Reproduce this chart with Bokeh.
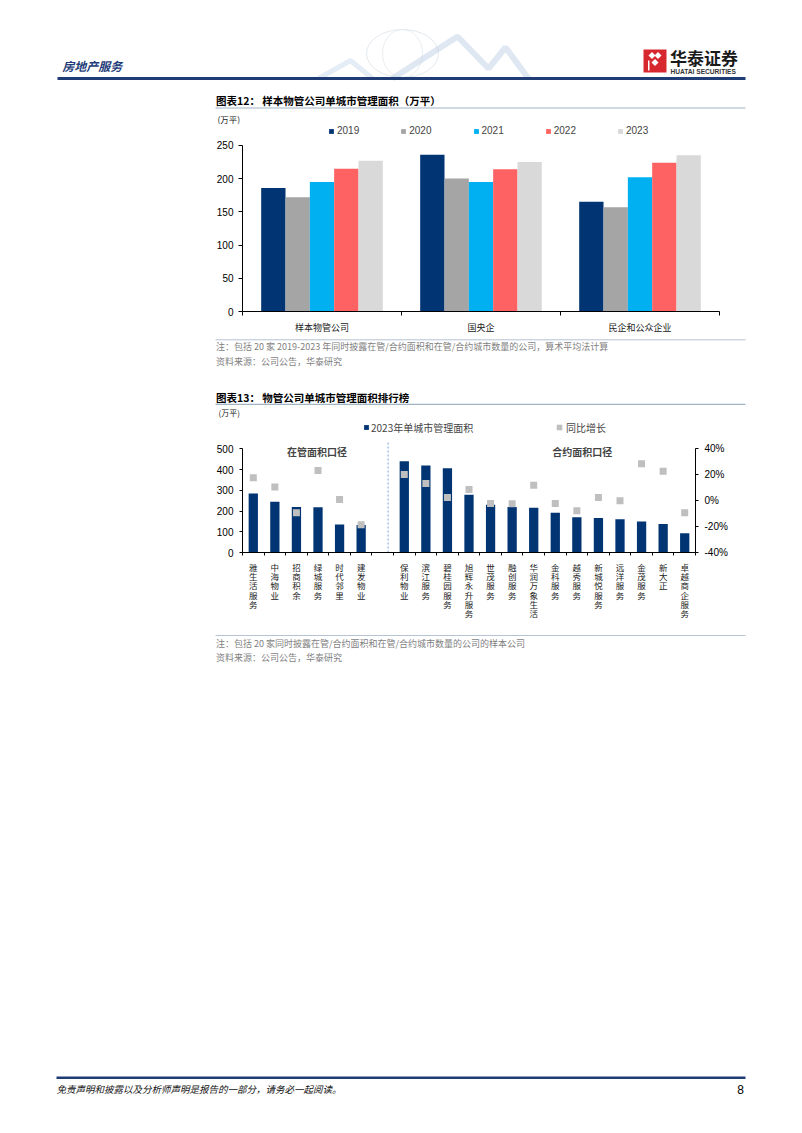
from bokeh.plotting import figure
from bokeh.models import (Range1d, LinearAxis, FixedTicker, NumeralTickFormatter,
                          Legend, LegendItem, Label, ColumnDataSource)
from bokeh.transform import dodge
from bokeh.core.properties import value
from bokeh.embed import file_html
from bokeh.resources import INLINE

CJK = "Noto Sans CJK SC"
LAT = "Liberation Sans"
NAVY = "#003473"
W = 802

# ---------------- data: chart 12 ----------------
groups12 = ["样本物管公司", "国央企", "民企和公众企业"]
years12 = ["2019", "2020", "2021", "2022", "2023"]
v2019 = [186, 236, 165]
v2020 = [172, 200, 157]
v2021 = [195, 195, 202]
v2022 = [215, 214, 224]
v2023 = [227, 225, 235]
colors12 = ["#003473", "#A5A5A5", "#00B0F0", "#FF6262", "#D9D9D9"]
ticks12 = [0, 50, 100, 150, 200, 250]

# ---------------- data: chart 13 ----------------
names_managed = ["雅生活服务", "中海物业", "招商积余", "绿城服务", "时代邻里", "建发物业"]
area_managed = [285, 245, 219, 218, 135, 133]
yoy_managed = [0.178, 0.106, -0.093, 0.234, 0.009, -0.185]
names_contract = ["保利物业", "滨江服务", "碧桂园服务", "旭辉永升服务", "世茂服务", "融创服务",
                  "华润万象生活", "金科服务", "越秀服务", "新城悦服务", "远洋服务", "金茂服务",
                  "新大正", "卓越商企服务"]
area_contract = [440, 420, 406, 279, 230, 219, 216, 192, 170, 166, 160, 150, 137, 93]
yoy_contract = [0.203, 0.132, 0.024, 0.086, -0.022, -0.024, 0.119, -0.022, -0.078, 0.024,
                -0.001, 0.285, 0.228, -0.093]
ticks13_left = [0, 100, 200, 300, 400, 500]
ticks13_right = [-0.4, -0.2, 0.0, 0.2, 0.4]
series13 = ["2023年单城市管理面积", "同比增长"]
section13 = ["在管面积口径", "合约面积口径"]
unit_label = "(万平)"


def canvas(top, bottom):
    p = figure(width=W, height=bottom - top, x_range=Range1d(0, W),
               y_range=Range1d(bottom, top), output_backend="svg",
               toolbar_location=None, x_axis_type=None, y_axis_type=None, min_border=0)
    p.outline_line_color = None
    p.background_fill_color = "white"
    p.border_fill_color = "white"
    return p


def txt(p, x, y, s, size, color="#000000", font=CJK, style="normal", align="left"):
    p.text(x=[x], y=[y], text=[s], text_font=value(font), text_font_size=size,
           text_color=color, text_font_style=style, text_align=align, text_baseline="middle")


def hline(p, x0, x1, y, color, w):
    p.line([x0, x1], [y, y], line_color=color, line_width=w)


# ---------------- header (page y 0..124) ----------------
h = canvas(0, 124)
h.ellipse(x=[402], y=[53], width=[72], height=[48], fill_color=None,
          line_color="#DCE2EA", line_alpha=0.8, line_width=1)
h.ellipse(x=[402], y=[53], width=[40], height=[48], fill_color=None,
          line_color="#E3E8EE", line_alpha=0.8, line_width=1)
h.line([318, 350, 372], [78, 60, 78], line_color="#C3D5E8", line_alpha=0.45, line_width=5)
h.line([392, 457, 488, 505, 528], [78, 36, 68, 47, 78], line_color="#B7CCE3",
       line_alpha=0.45, line_width=6)
txt(h, 61.7, 65, "房地产服务", "12px", color="#1F3D7A", style="bold italic")
h.quad(left=[643], right=[666], top=[49], bottom=[72], fill_color="#D7282F", line_color=None)
h.patches(xs=[[648, 651.5, 655, 651.5], [654, 657.5, 661, 657.5], [651, 654.5, 658, 654.5]],
          ys=[[55, 51.5, 55, 58.5], [55, 51.5, 55, 58.5], [62, 58.5, 62, 65.5]],
          fill_color="white", line_color=None)
h.quad(left=[647.5, 660.5], right=[649, 662], top=[60], bottom=[70], fill_color="white", line_color=None)
txt(h, 669.5, 56.5, "华泰证券", "17px", color="#1A1A1A", style="bold")
txt(h, 670, 71, "HUATAI SECURITIES", "6.6px", color="#333333", font=LAT, style="bold")
hline(h, 57, 745, 78, "#1F3C74", 3)
txt(h, 215.5, 100, "图表12： 样本物管公司单城市管理面积（万平）", "10.5px", style="bold")
hline(h, 215, 745, 107.5, "#A0B4C8", 1.2)
txt(h, 217, 118.2, unit_label, "8.5px", color="#222222")

# ---------------- chart 12 (page y 124..336) ----------------
src12 = ColumnDataSource(dict(x=list(range(len(groups12))),
                              **{yr: vals for yr, vals in zip(years12, [v2019, v2020, v2021, v2022, v2023])}))
p2 = figure(width=W, height=212, x_range=Range1d(-0.5, len(groups12) - 0.5),
            y_range=Range1d(0, 279.9), output_backend="svg", toolbar_location=None,
            min_border_left=242, min_border_right=83, min_border_top=1, min_border_bottom=24)
p2.grid.visible = False
p2.outline_line_color = None
bw = 0.153
items12 = []
for k, (yr, c) in enumerate(zip(years12, colors12)):
    r = p2.vbar(x=dodge("x", (k - 2) * bw), top=yr, width=bw, source=src12,
                fill_color=c, line_color=None)
    items12.append(LegendItem(label=yr, renderers=[r]))

p2.yaxis.ticker = FixedTicker(ticks=ticks12)
p2.yaxis.bounds = (0, 250)
p2.yaxis.major_tick_out = 4
p2.yaxis.major_tick_in = 0
p2.yaxis.minor_tick_line_color = None
p2.yaxis.major_label_standoff = 5
p2.yaxis.major_label_text_font = LAT
p2.yaxis.major_label_text_font_size = "10px"
p2.yaxis.major_label_text_color = "#000000"
p2.yaxis.axis_line_color = "#000000"

p2.xaxis.ticker = FixedTicker(ticks=list(range(len(groups12))),
                              minor_ticks=[i - 0.5 for i in range(len(groups12) + 1)])
p2.xaxis.major_label_overrides = {i: g for i, g in enumerate(groups12)}
p2.xaxis.major_tick_out = 0
p2.xaxis.major_tick_in = 0
p2.xaxis.major_tick_line_color = None
p2.xaxis.minor_tick_out = 4
p2.xaxis.minor_tick_in = 0
p2.xaxis.minor_tick_line_color = "#000000"
p2.xaxis.major_label_standoff = 5
p2.xaxis.major_label_text_font = CJK
p2.xaxis.major_label_text_font_size = "9px"
p2.xaxis.major_label_text_color = "#222222"
p2.xaxis.axis_line_color = "#000000"

leg12 = Legend(items=items12, orientation="horizontal", location=(86, 175),
               border_line_color=None, background_fill_alpha=0, padding=0, margin=0,
               spacing=41, glyph_width=6, glyph_height=6, label_standoff=3,
               label_text_font_size="10px", label_text_font=LAT, label_height=10)
p2.add_layout(leg12)

# ---------------- notes 12 + title 13 (page y 336..418) ----------------
n1 = canvas(336, 418)
hline(n1, 215, 745, 339.3, "#B4C4D4", 1)
txt(n1, 215.5, 346, "注：包括 20 家 2019-2023 年同时披露在管/合约面积和在管/合约城市数量的公司，算术平均法计算",
    "9px", color="#7F7F7F")
txt(n1, 215.5, 360.5, "资料来源：公司公告，华泰研究", "9px", color="#7F7F7F")
txt(n1, 215.5, 396.5, "图表13： 物管公司单城市管理面积排行榜", "10.5px", style="bold")
hline(n1, 215, 745, 403.8, "#A0B4C8", 1.2)
txt(n1, 218, 412.2, unit_label, "8px", color="#222222")

# ---------------- chart 13 (page y 418..622) ----------------
names13 = names_managed + names_contract
n_left = len(names_managed)
x13 = list(range(n_left)) + [n_left + 1 + i for i in range(len(names_contract))]
n_slots = len(names13) + 1
src13 = ColumnDataSource(dict(x=x13, area=area_managed + area_contract,
                              yoy=yoy_managed + yoy_contract, name=names13))
p4 = figure(width=W, height=204, x_range=Range1d(-0.5, n_slots - 0.5),
            y_range=Range1d(0, 641.8), output_backend="svg", toolbar_location=None,
            min_border_left=242, min_border_right=107, min_border_top=1, min_border_bottom=69)
p4.extra_y_ranges = {"pct": Range1d(-0.4, 0.6268)}
p4.grid.visible = False
p4.outline_line_color = None
bars = p4.vbar(x="x", top="area", width=0.43, source=src13, fill_color=NAVY, line_color=None)
pts = p4.scatter(x="x", y="yoy", source=src13, marker="square", size=7,
                 fill_color="#BFBFBF", line_color=None, y_range_name="pct")
p4.segment(x0=[n_left + 0.25], y0=[0], x1=[n_left + 0.25], y1=[540],
           line_color="#8DB4E2", line_dash="2 2", line_width=1.2)

p4.yaxis.ticker = FixedTicker(ticks=ticks13_left)
p4.yaxis.bounds = (0, 500)
ax_r = LinearAxis(y_range_name="pct", ticker=FixedTicker(ticks=ticks13_right),
                  formatter=NumeralTickFormatter(format="0%"), bounds=(-0.4, 0.4))
p4.add_layout(ax_r, "right")
for ax in [p4.yaxis[0], ax_r]:
    ax.major_tick_out = 3
    ax.major_tick_in = 0
    ax.minor_tick_line_color = None
    ax.major_label_standoff = 6
    ax.major_label_text_font = LAT
    ax.major_label_text_font_size = "10px"
    ax.major_label_text_color = "#000000"
    ax.axis_line_color = "#000000"

p4.xaxis.ticker = FixedTicker(ticks=x13, minor_ticks=[i - 0.5 for i in range(n_slots + 1)])
p4.xaxis.major_label_overrides = {xi: "\n".join(nm) for xi, nm in zip(x13, names13)}
p4.xaxis.major_tick_out = 0
p4.xaxis.major_tick_in = 0
p4.xaxis.major_tick_line_color = None
p4.xaxis.minor_tick_out = 3
p4.xaxis.minor_tick_in = 0
p4.xaxis.minor_tick_line_color = "#000000"
p4.xaxis.major_label_standoff = 5
p4.xaxis.major_label_text_font = CJK
p4.xaxis.major_label_text_font_size = "8.5px"
p4.xaxis.major_label_text_line_height = 0.78
p4.xaxis.major_label_text_color = "#222222"
p4.xaxis.axis_line_color = "#000000"

leg13a = Legend(items=[LegendItem(label=series13[0], renderers=[bars])],
                orientation="horizontal", location=(121, 117.5),
                border_line_color=None, background_fill_alpha=0, padding=0, margin=0,
                glyph_width=6, glyph_height=6, label_standoff=2,
                label_text_font_size="10px", label_text_font=CJK, label_height=10)
leg13b = Legend(items=[LegendItem(label=series13[1], renderers=[pts])],
                orientation="horizontal", location=(310, 117.5),
                border_line_color=None, background_fill_alpha=0, padding=0, margin=0,
                glyph_width=14, glyph_height=14, label_standoff=0,
                label_text_font_size="10px", label_text_font=CJK, label_height=10)
p4.add_layout(leg13a)
p4.add_layout(leg13b)
p4.add_layout(Label(x=2.95, y=488, text=section13[0], text_font=CJK, text_font_size="10px",
                    text_font_style="bold", text_align="center", text_baseline="middle"))
p4.add_layout(Label(x=15.25, y=488, text=section13[1], text_font=CJK, text_font_size="10px",
                    text_font_style="bold", text_align="center", text_baseline="middle"))

# ---------------- notes 13 + footer (page y 622..1133) ----------------
f = canvas(622, 1133)
hline(f, 215, 745, 635, "#B4C4D4", 1)
txt(f, 215.5, 643, "注：包括 20 家同时披露在管/合约面积和在管/合约城市数量的公司的样本公司",
    "9px", color="#7F7F7F")
txt(f, 215.5, 657, "资料来源：公司公告，华泰研究", "9px", color="#7F7F7F")
hline(f, 56, 745, 1077.3, "#1F3C74", 2.5)
txt(f, 56, 1088.5, "免责声明和披露以及分析师声明是报告的一部分，请务必一起阅读。", "9.5px",
    color="#111111", style="italic")
txt(f, 740, 1088.5, "8", "12px", font=LAT, align="center")

open("out.html", "w").write(file_html([h, p2, n1, p4, f], INLINE))
